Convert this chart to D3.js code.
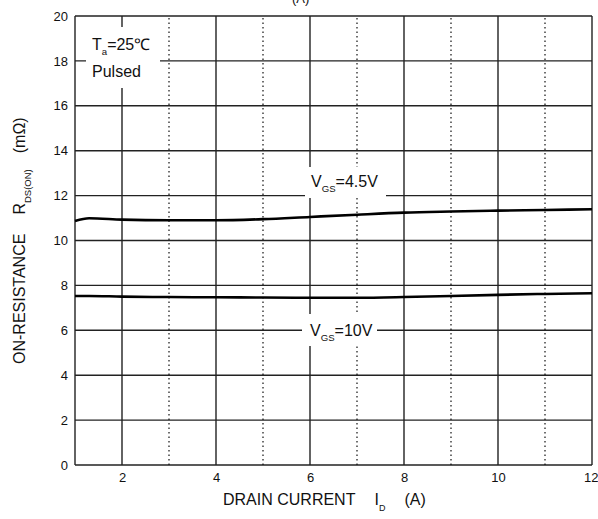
<!DOCTYPE html>
<html>
<head>
<meta charset="utf-8">
<script src="https://cdn.jsdelivr.net/npm/d3@7"></script>
<style>
  body { margin: 0; background: #fff; }
  text { font-family: "Liberation Sans", Arial, Helvetica, sans-serif; fill: #111; }
</style>
</head>
<body>
<div id="chart"></div>
<script>
// Drain current (A) and on-resistance (mOhm)
const currentA = [1, 1.3, 2, 3, 4, 5, 6, 7, 8, 9, 10, 11, 12];
const rds45 = [10.87, 10.99, 10.93, 10.9, 10.9, 10.95, 11.05, 11.15, 11.24, 11.29, 11.33, 11.36, 11.39];
const rds10 = [7.53, 7.53, 7.5, 7.48, 7.47, 7.46, 7.45, 7.45, 7.48, 7.53, 7.58, 7.62, 7.65];
const xTicks = [2, 4, 6, 8, 10, 12];
const xMinor = [3, 5, 7, 9, 11];
const yTicks = [0, 2, 4, 6, 8, 10, 12, 14, 16, 18, 20];

const width = 598, height = 519;
const margin = { top: 16, right: 6, bottom: 54, left: 75 };

const svg = d3.select("#chart").append("svg")
  .attr("width", width)
  .attr("height", height);

const x = d3.scaleLinear().domain([1, 12]).range([margin.left, width - margin.right]);
const y = d3.scaleLinear().domain([0, 20]).range([height - margin.bottom, margin.top]);

// grid
svg.append("g").selectAll("line").data(yTicks).join("line")
  .attr("x1", x(1)).attr("x2", x(12))
  .attr("y1", d => y(d)).attr("y2", d => y(d))
  .attr("stroke", "#222").attr("stroke-width", 1.4);

svg.append("g").selectAll("line").data([1].concat(xTicks)).join("line")
  .attr("x1", d => x(d)).attr("x2", d => x(d))
  .attr("y1", y(0)).attr("y2", y(20))
  .attr("stroke", "#222").attr("stroke-width", 1.4);

svg.append("g").selectAll("line").data(xMinor).join("line")
  .attr("x1", d => x(d)).attr("x2", d => x(d))
  .attr("y1", y(0)).attr("y2", y(20))
  .attr("stroke", "#111").attr("stroke-width", 1.2)
  .attr("stroke-dasharray", "1.5,3");

// axes labels
const xAxis = d3.axisBottom(x).tickValues(xTicks).tickSize(0).tickPadding(8);
svg.append("g").attr("transform", `translate(0,${y(0)})`).call(xAxis)
  .call(g => g.select(".domain").remove())
  .call(g => g.selectAll("text").attr("font-size", 13).attr("fill", "#111")
    .style("font-family", "Liberation Sans, Arial, sans-serif"))
  .call(g => g.selectAll("text").filter(d => d === 12)
    .attr("text-anchor", "end").attr("dx", "6"));

const yAxis = d3.axisLeft(y).tickValues(yTicks).tickSize(0).tickPadding(7);
svg.append("g").attr("transform", `translate(${x(1)},0)`).call(yAxis)
  .call(g => g.select(".domain").remove())
  .call(g => g.selectAll("text").attr("font-size", 13).attr("fill", "#111")
    .style("font-family", "Liberation Sans, Arial, sans-serif"));

// white boxes behind annotations
const boxes = [
  { x0: 86, y0: 27, x1: 160, y1: 88 },
  { x0: 305, y0: 167, x1: 386, y1: 198 },
  { x0: 302, y0: 314, x1: 377, y1: 346 }
];
svg.append("g").selectAll("rect").data(boxes).join("rect")
  .attr("x", d => d.x0).attr("y", d => d.y0)
  .attr("width", d => d.x1 - d.x0).attr("height", d => d.y1 - d.y0)
  .attr("fill", "#fff");

// curves
const line = d3.line()
  .x((d, i) => x(currentA[i]))
  .y(d => y(d))
  .curve(d3.curveMonotoneX);

[rds45, rds10].forEach(s => {
  svg.append("path").datum(s)
    .attr("d", line)
    .attr("fill", "none")
    .attr("stroke", "#000")
    .attr("stroke-width", 2.6);
});

// annotations
function sub(t, main, subTxt, rest, size) {
  t.append("tspan").text(main);
  t.append("tspan").attr("font-size", size * 0.6).attr("dy", 5).text(subTxt);
  t.append("tspan").attr("dy", -5).text(rest);
}

const ta = svg.append("text").attr("x", 92).attr("y", 50).attr("font-size", 16);
sub(ta, "T", "a", "=25\u2103", 16);
svg.append("text").attr("x", 92).attr("y", 77).attr("font-size", 16).text("Pulsed");

const v45 = svg.append("text").attr("x", 311).attr("y", 187).attr("font-size", 16);
sub(v45, "V", "GS", "=4.5V", 16);

const v10 = svg.append("text").attr("x", 310).attr("y", 336).attr("font-size", 16);
sub(v10, "V", "GS", "=10V", 16);

// x title
const xt = svg.append("text").attr("x", 223).attr("y", 505).attr("font-size", 16);
xt.append("tspan").text("DRAIN CURRENT");
xt.append("tspan").attr("dx", 19).text("I");
xt.append("tspan").attr("font-size", 9).attr("dy", 6).text("D");
xt.append("tspan").attr("dx", 19).attr("dy", -6).text("(A)");

// y title
const yt = svg.append("text")
  .attr("transform", `translate(25,${364}) rotate(-90)`)
  .attr("font-size", 16);
yt.append("tspan").text("ON-RESISTANCE");
yt.append("tspan").attr("dx", 19).text("R");
yt.append("tspan").attr("font-size", 9.5).attr("dy", 6).text("DS(ON)");
yt.append("tspan").attr("dx", 16).attr("dy", -6).text("(m\u03a9)");

// title above the plot, mostly outside the picture as in the reference
svg.append("text").attr("x", 292).attr("y", 3).attr("font-size", 13).text("(A)");
</script>
</body>
</html>
